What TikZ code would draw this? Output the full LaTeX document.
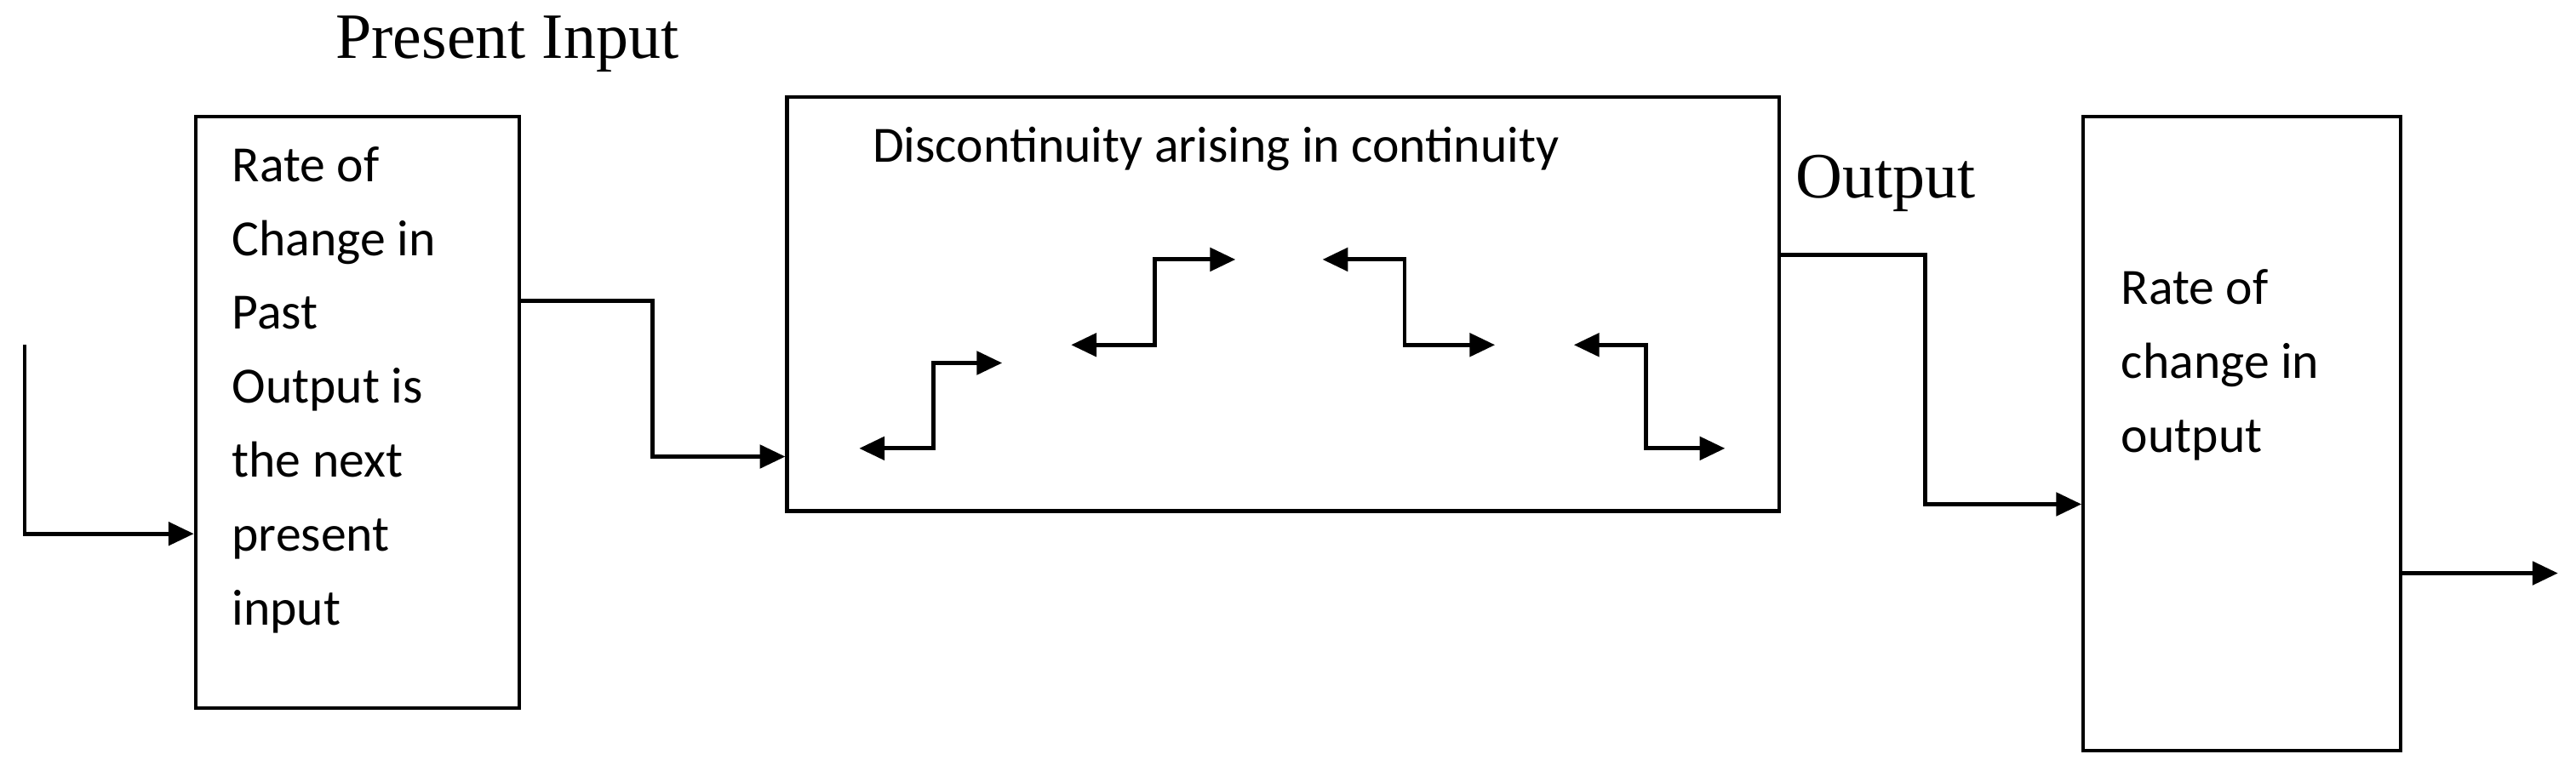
\documentclass[tikz,border=0pt]{standalone}
\usepackage{fontspec}
\setmainfont{Liberation Serif}
\newfontfamily\boxfont{Carlito}
\usetikzlibrary{arrows.meta,positioning}
\begin{document}
\begin{tikzpicture}[x=0.05cm,y=-0.05cm,>={Triangle[length=22pt,width=20pt]},
                    line width=3.6pt,
                    block/.style={draw,line width=3.2pt,anchor=north west,inner sep=0pt},
                    boxtext/.style={font=\boxfont\fontsize{44}{64}\selectfont,align=left,anchor=north west,inner sep=0pt},
                    title/.style={font=\fontsize{56}{60}\selectfont,inner sep=0pt}]
  \useasboundingbox (0,0) rectangle (1568,473);

  % blocks
  \node[block,minimum width=197*0.05cm,minimum height=360*0.05cm] (past) at (118,70) {};
  \node[block,minimum width=604*0.05cm,minimum height=252*0.05cm] (disc) at (478,58) {};
  \node[block,minimum width=193*0.05cm,minimum height=386*0.05cm] (rate) at (1267,70) {};

  % texts
  \node[boxtext] (pasttext) at (140,88) {Rate of\\Change in\\Past\\Output is\\the next\\present\\input};
  \node[boxtext] (disctext) at (530,76) {Discontinuity arising in continuity};
  \node[boxtext] (ratetext) at (1290,163) {Rate of\\change in\\output};
  \node[title,anchor=south west] (present) at (203,45) {Present Input};
  \node[title,anchor=south west] (outlabel) at (1092,130) {Output};

  % connectors
  \coordinate (in) at (15,210);
  \coordinate (out) at (1557,349);
  \draw[->] (in) |- (past.west |- 0,325);
  \draw[->] (past.east |- 0,183) -- (397,183) |- (disc.west |- 0,278);
  \draw[->] (disc.east |- 0,155) -- (1172,155) |- (rate.west |- 0,307);
  \draw[->] (rate.east |- 0,349) -- (out);

  % steps inside
  \foreach \a/\b/\c/\d in {523/273/568/610, 652/210/703/752}
    \draw[<->] (\a,\b) -- (\c,\b) |- (\d,\b-63+11);
  \draw[<->] (805,158) -- (855,158) |- (910,210);
  \draw[<->] (958,210) -- (1002,210) |- (1050,273);
\end{tikzpicture}
\end{document}
